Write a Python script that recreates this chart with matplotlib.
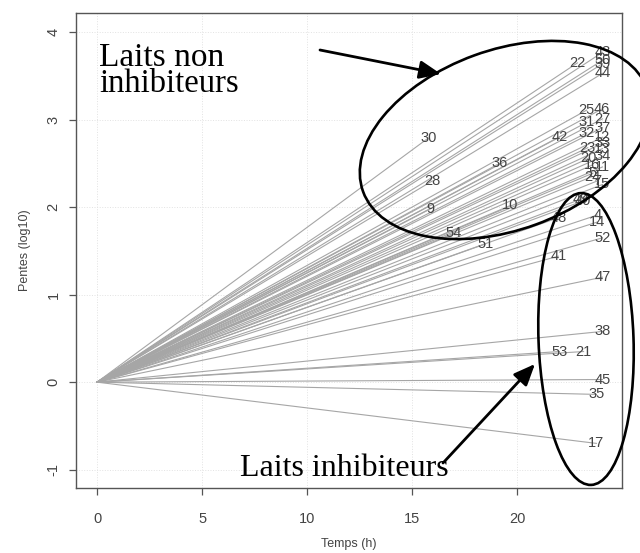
import matplotlib
matplotlib.use("Agg")
import matplotlib.pyplot as plt
from matplotlib.patches import Ellipse

# ---- data: end time (h) and end value (log10 slope) of each milk line ----
ids = ['43', '50', '39', '22', '44', '25', '46', '31', '27', '37', '32', '12',
       '42', '33', '23', '13', '34', '20', '16', '11', '5', '24', '7', '15',
       '49', '40', '4', '14', '48', '52', '41', '47', '38', '53', '21', '45',
       '35', '17', '30', '36', '28', '9', '10', '54', '51']
t_end = [24.05, 24.05, 24.05, 22.86, 24.05, 23.3, 24.0, 23.3, 24.05, 24.05, 23.3, 24.05,
         22.0, 24.05, 23.35, 24.05, 24.05, 23.4, 23.55, 24.05, 23.6, 23.55, 23.8, 24.05,
         23.0, 23.1, 23.8, 23.8, 21.95, 24.05, 21.95, 24.05, 24.05, 22.0, 23.15, 24.05,
         23.76, 23.76, 15.76, 19.14, 15.95, 15.86, 19.67, 16.95, 18.48]
y_end = [3.77, 3.68, 3.64, 3.65, 3.53, 3.11, 3.12, 2.97, 3.01, 2.91, 2.85, 2.80,
         2.80, 2.73, 2.68, 2.67, 2.58, 2.56, 2.48, 2.46, 2.39, 2.35, 2.30, 2.26,
         2.09, 2.07, 1.91, 1.83, 1.88, 1.65, 1.44, 1.20, 0.58, 0.35, 0.35, 0.03,
         -0.14, -0.70, 2.79, 2.50, 2.30, 1.98, 2.02, 1.70, 1.58]
x_ticks = [0, 5, 10, 15, 20]
y_ticks = [-1, 0, 1, 2, 3, 4]

fig = plt.figure(figsize=(6.4, 5.53), dpi=100)
W, H = 640, 553
l, r, t, b = 76, 622, 13, 488
ax = fig.add_axes([l / W, 1 - b / H, (r - l) / W, (b - t) / H])

grey = '#555555'
for xv in x_ticks:
    ax.axvline(xv, color='#e2e2e2', lw=0.7, ls=':', zorder=0)
for yv in y_ticks:
    ax.axhline(yv, color='#e2e2e2', lw=0.7, ls=':', zorder=0)

for name, te, ye in zip(ids, t_end, y_end):
    ax.plot([0, te], [0, ye], color='#a6a6a6', lw=0.8, zorder=1)
for name, te, ye in zip(ids, t_end, y_end):
    ax.text(te, ye, name, ha='center', va='center', fontsize=10.5,
            color='#444444', family='Liberation Sans', zorder=3)

ax.set_xlim(-1.0, 24.98)
ax.set_ylim(-1.21, 4.22)
ax.set_xticks(x_ticks)
ax.set_yticks(y_ticks)
ax.set_xticklabels([str(v) for v in x_ticks], family='Liberation Sans', fontsize=10.5, color='#444444')
ax.set_yticklabels([str(v) for v in y_ticks], family='Liberation Sans', fontsize=10.5,
                   color='#444444', rotation=90, va='center')
ax.tick_params(axis='x', direction='out', length=5, width=0.9, color=grey, pad=12)
ax.tick_params(axis='y', direction='out', length=5, width=0.9, color=grey, pad=6)
for s in ax.spines.values():
    s.set_color(grey)
    s.set_linewidth(1.0)
ax.set_xlabel('Temps (h)', family='Liberation Sans', fontsize=9, color='#444444', labelpad=9)
ax.set_ylabel('Pentes (log10)', family='Liberation Sans', fontsize=9, color='#444444', labelpad=11)

# ---- overlay annotations in pixel coordinates ----
ov = fig.add_axes([0, 0, 1, 1])
ov.set_xlim(0, W)
ov.set_ylim(H, 0)
ov.axis('off')
ov.patch.set_alpha(0)

ov.add_patch(Ellipse((505, 140), 302, 180, angle=-20, fill=False, ec='black', lw=1.9))
ov.add_patch(Ellipse((586, 339), 95, 292, angle=-2, fill=False, ec='black', lw=1.9))

serif = 'Liberation Serif'
ov.text(99, 66, 'Laits non', family=serif, fontsize=24, va='baseline', ha='left', color='black')
ov.text(99, 92, 'inhibiteurs', family=serif, fontsize=23.5, va='baseline', ha='left', color='black')
ov.text(240, 476, 'Laits inhibiteurs', family=serif, fontsize=23, va='baseline', ha='left', color='black')

ov.annotate('', xy=(441, 74), xytext=(320, 50),
            arrowprops=dict(arrowstyle='-|>,head_length=1.3,head_width=0.55',
                            color='black', lw=2.0, shrinkA=0, shrinkB=0))
ov.annotate('', xy=(535, 364), xytext=(443, 463),
            arrowprops=dict(arrowstyle='-|>,head_length=1.3,head_width=0.55',
                            color='black', lw=2.0, shrinkA=0, shrinkB=0))

fig.savefig('out.png', dpi=100)
